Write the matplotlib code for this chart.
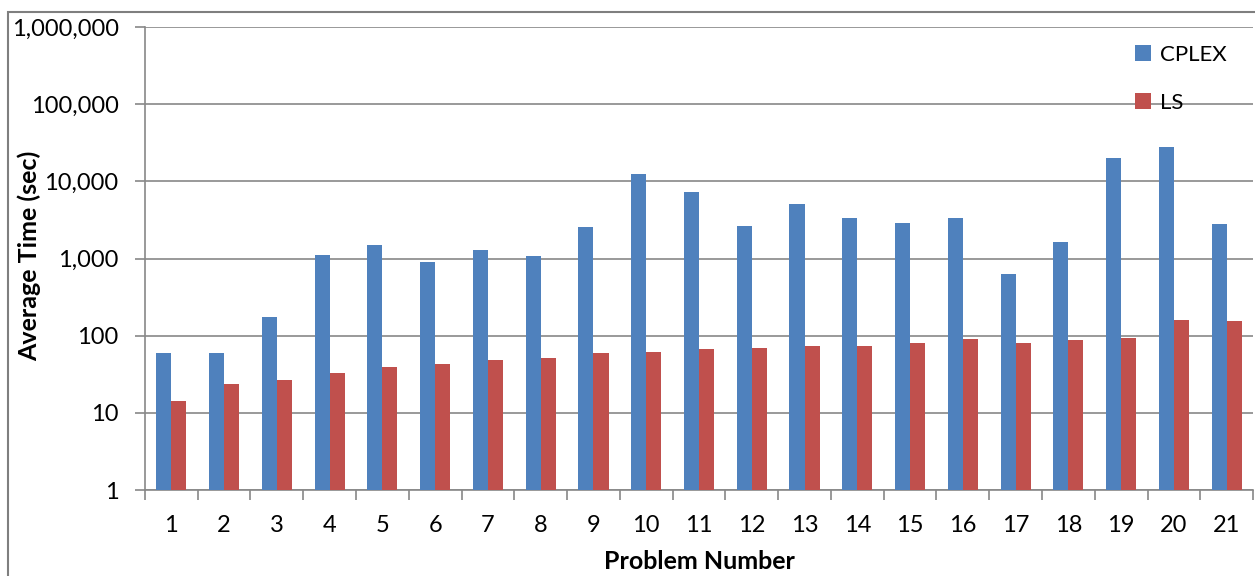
import numpy as np
import matplotlib
matplotlib.use("Agg")
import matplotlib.pyplot as plt
from matplotlib.ticker import FixedLocator, FuncFormatter, NullLocator
from matplotlib.patches import Rectangle

# data
problems = [str(i) for i in range(1, 22)]
cplex = [60, 60, 175, 1110, 1500, 900, 1290, 1070, 2560, 12400, 7270,
         2640, 5080, 3350, 2880, 3350, 630, 1640, 20000, 27800, 2800]
ls = [14.2, 23.6, 26.6, 32.8, 39, 43, 48, 51, 60, 61, 67,
      69, 73, 73, 80, 90, 80, 88, 93, 160, 155]
y_ticks = [1, 10, 100, 1000, 10000, 100000, 1000000]

plt.rcParams['font.family'] = ['Lato', 'DejaVu Sans']

fig = plt.figure(figsize=(12.55, 5.76), dpi=100)
ax = fig.add_axes([0.1155, 0.149, 0.883, 0.804])

x = np.arange(len(problems))
w = 0.2857
ax.bar(x - w / 2, cplex, w, color='#4F81BD', label='CPLEX', zorder=3)
ax.bar(x + w / 2, ls, w, color='#C0504D', label='LS', zorder=3)

ax.set_yscale('log')
ax.set_ylim(1, 1000000)
ax.yaxis.set_major_locator(FixedLocator(y_ticks))
ax.yaxis.set_minor_locator(NullLocator())
ax.yaxis.set_major_formatter(FuncFormatter(lambda v, p: f"{int(round(v)):,}"))
ax.grid(axis='y', color='#888888', linewidth=1.2, zorder=0)

ax.set_xlim(-0.5, len(problems) - 0.5)
ax.set_xticks(x)
ax.set_xticklabels(problems)
ax.set_xticks(np.arange(-0.5, len(problems), 1), minor=True)
ax.tick_params(axis='x', which='major', length=0, pad=18, labelsize=17)
ax.tick_params(axis='x', which='minor', length=7, color='#888888', width=1.2)
ax.tick_params(axis='y', which='major', length=7, color='#888888', width=1.2,
               labelsize=17, pad=12)

for s in ['top', 'right']:
    ax.spines[s].set_visible(False)
for s in ['left', 'bottom']:
    ax.spines[s].set_color('#888888')
    ax.spines[s].set_linewidth(1.2)

ax.set_xlabel('Problem Number', fontsize=18, fontweight='bold', labelpad=10)
ax.set_ylabel('Average Time (sec)', fontsize=18, fontweight='bold')
ax.yaxis.set_label_coords(-0.094, 0.505)

ax.legend(loc='upper right', bbox_to_anchor=(0.994, 1.005), frameon=False,
          fontsize=16, handlelength=0.7, handleheight=0.7, labelspacing=1.25,
          handletextpad=0.4)

# outer chart border
fig.patches.append(Rectangle((0.006, -0.01), 1.2, 0.99, transform=fig.transFigure,
                             fill=False, edgecolor='#7f7f7f', linewidth=1.5))

fig.savefig('out.png', dpi=100)
